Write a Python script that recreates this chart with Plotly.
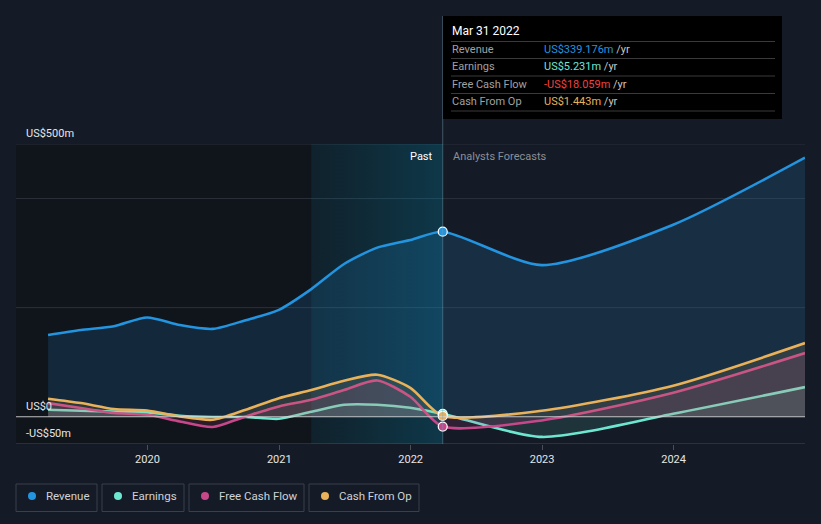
import plotly.graph_objects as go

# ---------------- data ----------------
past_dates = ["2019-03-31", "2019-06-30", "2019-09-30", "2019-12-31",
              "2020-03-31", "2020-06-30", "2020-09-30", "2020-12-31",
              "2021-03-31", "2021-06-30", "2021-09-30", "2021-12-31",
              "2022-03-31"]
fc_dates = ["2022-03-31", "2022-12-31", "2023-12-31", "2024-12-31"]

revenue_past = [150, 159, 166, 182, 168, 161, 177, 196, 234, 280, 310, 324, 339.176]
earnings_past = [12.8, 11, 9.7, 7.9, 1.8, -0.5, -0.5, -3.7, 9, 22, 22, 16.5, 5.231]
fcf_past = [25, 16, 6.8, 3.7, -8.6, -18.9, 0.5, 18.9, 31, 49, 66.5, 36.6, -18.059]
cfo_past = [33, 25, 14.1, 11.5, 0.5, -5.5, 12.8, 34, 49, 66, 77, 53, 1.443]

revenue_fc = [339.176, 278, 352, 475]
earnings_fc = [5.231, -37, 5.5, 54.4]
fcf_fc = [-18.059, -6.8, 44, 116.7]
cfo_fc = [1.443, 11, 57, 135]

y_labels = ["US$500m", "US$0", "-US$50m"]
y_label_vals = [500, 0, -50]
grid_vals = [-50, 0, 200, 400, 500]
x_ticks = ["2020-01-01", "2021-01-01", "2022-01-01", "2023-01-01", "2024-01-01"]
x_tick_text = ["2020", "2021", "2022", "2023", "2024"]

series_names = ["Revenue", "Earnings", "Free Cash Flow", "Cash From Op"]
colors = ["#2394df", "#6ee7d0", "#c7488a", "#e8b15a"]
fills = ["rgba(35,148,223,0.16)", "rgba(110,231,208,0.12)",
         "rgba(199,72,138,0.15)", "rgba(232,177,90,0.12)"]
tooltip_date = "Mar 31 2022"
tooltip_vals = ["US$339.176m", "US$5.231m", "-US$18.059m", "US$1.443m"]
tooltip_cols = ["#2394df", "#6ee7d0", "#f0423c", "#e8b15a"]

present = "2022-03-31"
hl_start = "2021-03-31"

# ---------------- figure ----------------
W, H = 821, 524
L, R, T, B = 16, 805, 144, 444


def px(x):
    return (x - L) / (R - L)


def py(y):
    return (B - y) / (B - T)


fig = go.Figure()

# highlighted last-year band (horizontal gradient)
fig.add_trace(go.Scatter(x=[hl_start, present, present, hl_start, hl_start], y=[-50, -50, 500, 500, -50],
                         mode="lines", line=dict(width=0), fill="toself",
                         fillgradient=dict(type="horizontal",
                                           colorscale=[[0, "rgba(14,110,140,0.15)"],
                                                       [1, "rgba(10,120,155,0.36)"]]),
                         hoverinfo="skip", showlegend=False))

past_series = [revenue_past, earnings_past, fcf_past, cfo_past]
fc_series = [revenue_fc, earnings_fc, fcf_fc, cfo_fc]

for i in range(4):
    fig.add_trace(go.Scatter(x=past_dates + fc_dates[1:], y=past_series[i] + fc_series[i][1:],
                             mode="lines", line=dict(color=colors[i], width=2.6, shape="spline", smoothing=0.7),
                             fill="tozeroy", fillcolor=fills[i], hoverinfo="skip", showlegend=False))

for i in range(4):
    fig.add_trace(go.Scatter(x=[present], y=[past_series[i][-1]], mode="markers",
                             marker=dict(color=colors[i], size=9, line=dict(color="white", width=1.2)),
                             hoverinfo="skip", showlegend=False))

shapes = []
shapes.append(dict(type="rect", xref="paper", yref="y", x0=0, x1=(443 - L) / (R - L), y0=-50, y1=500,
                   fillcolor="#10141b", line=dict(width=0), layer="below"))
for gv in grid_vals:
    shapes.append(dict(type="line", xref="paper", yref="y", x0=0, x1=1, y0=gv, y1=gv,
                       line=dict(color="#2b313b" if gv != -50 else "#444a54", width=1), layer="below"))
shapes.append(dict(type="line", xref="paper", yref="y", x0=0, x1=1, y0=0, y1=0,
                   line=dict(color="rgba(220,220,220,0.8)", width=1.2), layer="above"))
shapes.append(dict(type="line", xref="x", yref="paper", x0=present, x1=present, y0=0, y1=py(16),
                   line=dict(color="rgba(120,160,180,0.45)", width=1), layer="above"))
shapes.append(dict(type="rect", xref="paper", yref="paper", x0=px(443), x1=px(782), y0=py(119), y1=py(16),
                   fillcolor="#000000", line=dict(width=0), layer="above"))
for yy in [41.5, 58.5, 76, 93.5, 111]:
    shapes.append(dict(type="line", xref="paper", yref="paper", x0=px(451), x1=px(775), y0=py(yy), y1=py(yy),
                       line=dict(color="#3a3a3a", width=1), layer="above"))

annotations = []
for lab, v in zip(y_labels, y_label_vals):
    annotations.append(dict(xref="paper", yref="y", x=px(24), y=v, text=lab, showarrow=False,
                            xanchor="left", yanchor="bottom", yshift=2,
                            font=dict(color="#e6e6e6", size=11)))
annotations.append(dict(xref="paper", yref="paper", x=px(435), y=py(156), text="Past", showarrow=False,
                        xanchor="right", yanchor="middle", font=dict(color="#ffffff", size=11)))
annotations.append(dict(xref="paper", yref="paper", x=px(451), y=py(156), text="Analysts Forecasts",
                        showarrow=False, xanchor="left", yanchor="middle", font=dict(color="#8a8f98", size=11)))
annotations.append(dict(xref="paper", yref="paper", x=px(450), y=py(31), text=tooltip_date, showarrow=False,
                        xanchor="left", yanchor="middle", font=dict(color="#ffffff", size=12)))
row_y = [49, 66, 84, 101]
for i in range(4):
    annotations.append(dict(xref="paper", yref="paper", x=px(450), y=py(row_y[i]), text=series_names[i],
                            showarrow=False, xanchor="left", yanchor="middle",
                            font=dict(color="#a0a0a0", size=11)))
    annotations.append(dict(xref="paper", yref="paper", x=px(542), y=py(row_y[i]),
                            text=f"<span style='color:{tooltip_cols[i]}'>{tooltip_vals[i]}</span> /yr",
                            showarrow=False, xanchor="left", yanchor="middle",
                            font=dict(color="#c8c8c8", size=11)))

leg_boxes = [(16, 97), (102, 184), (189, 304), (309, 419)]
for i, (x0, x1) in enumerate(leg_boxes):
    shapes.append(dict(type="rect", xref="paper", yref="paper", x0=px(x0), x1=px(x1), y0=py(511.5), y1=py(484),
                       line=dict(color="#3a404a", width=1), fillcolor="rgba(0,0,0,0)"))
    cx = x0 + 16
    shapes.append(dict(type="circle", xref="paper", yref="paper", x0=px(cx - 4), x1=px(cx + 4),
                       y0=py(500), y1=py(492), fillcolor=colors[i], line=dict(width=0)))
    annotations.append(dict(xref="paper", yref="paper", x=px(x0 + 28), y=py(496), text=series_names[i],
                            showarrow=False, xanchor="left", yanchor="middle",
                            font=dict(color="#cfd2d6", size=11.5)))

fig.update_layout(
    width=W, height=H,
    margin=dict(l=L, r=W - R, t=T, b=H - B),
    paper_bgcolor="#151b26", plot_bgcolor="#151b26",
    font=dict(family="Roboto, Arial, sans-serif", color="#e0e0e0"),
    showlegend=False,
    shapes=shapes, annotations=annotations,
    xaxis=dict(type="date", range=["2019-01-01", "2024-12-31"], tickvals=x_ticks, ticktext=x_tick_text,
               showgrid=False, zeroline=False, showline=False, ticks="outside", ticklen=5,
               tickcolor="#4a505a", tickfont=dict(color="#e6e6e6", size=11), fixedrange=True),
    yaxis=dict(range=[-50, 500], showgrid=False, zeroline=False, showticklabels=False, fixedrange=True),
)

fig.write_html("out.html", config={"displayModeBar": False},
               post_script="document.body.style.margin='0';document.body.style.background='#151b26';"
                           "document.body.style.overflow='hidden';")
